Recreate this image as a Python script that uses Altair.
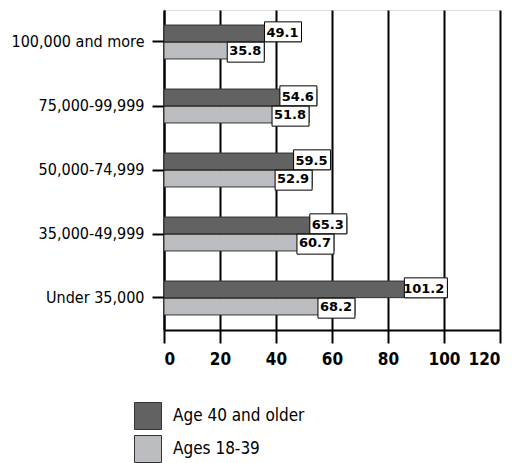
import altair as alt
import pandas as pd

categories = ["100,000 and more", "75,000-99,999", "50,000-74,999", "35,000-49,999", "Under 35,000"]
series_names = ["Age 40 and older", "Ages 18-39"]
older = [49.1, 54.6, 59.5, 65.3, 101.2]
younger = [35.8, 51.8, 52.9, 60.7, 68.2]
x_ticks = [0, 20, 40, 60, 80, 100, 120]

rows = []
for c, a, b in zip(categories, older, younger):
    rows.append({"cat": c, "series": series_names[0], "value": a, "label": f"{a:.1f}"})
    rows.append({"cat": c, "series": series_names[1], "value": b, "label": f"{b:.1f}"})
df = pd.DataFrame(rows)

COND = "DejaVu Sans Condensed"

# label-box outlines (right edge at the value), keyed by series and label length
box_keys = ["d4", "d5", "l4", "l5"]
box_paths = [
    "M-1.85,-0.575H0V0.425H-1.85Z",
    "M-2.15,-0.575H0V0.425H-2.15Z",
    "M-1.85,-0.425H0V0.575H-1.85Z",
    "M-2.15,-0.425H0V0.575H-2.15Z",
]

y_enc = alt.Y("cat:N", sort=categories, title=None,
              scale=alt.Scale(paddingInner=0.47, paddingOuter=0.235),
              axis=alt.Axis(labelFont=COND, labelFontSize=16, labelColor="black",
                            tickSize=12, tickWidth=2, tickColor="black", labelPadding=8,
                            domainColor="black", domainWidth=2))
yoff = alt.YOffset("series:N", sort=series_names, scale=alt.Scale(paddingInner=0.04))
x_enc = alt.X("value:Q", title=None,
              scale=alt.Scale(domain=[0, 120], nice=False),
              axis=alt.Axis(values=x_ticks, labelFont=COND, labelFontWeight="bold",
                            labelFontSize=17, labelColor="black", tickSize=13, tickWidth=2,
                            tickColor="black", labelPadding=8, domainColor="black", domainWidth=2,
                            grid=True, gridColor="black", gridWidth=2, gridOpacity=1))

base = alt.Chart(df)

bars = base.mark_bar(stroke="#333333", strokeWidth=1).encode(
    y=y_enc, yOffset=yoff, x=x_enc,
    color=alt.Color("series:N", sort=series_names,
                    scale=alt.Scale(domain=series_names, range=["#626262", "#bcbdc1"]),
                    legend=alt.Legend(title=None, orient="none", legendX=-30, legendY=392,
                                      symbolType="square", symbolSize=729, symbolStrokeColor="#333333",
                                      symbolStrokeWidth=1, labelFont=COND,
                                      labelFontSize=17, labelColor="black", labelOffset=11,
                                      rowPadding=1, symbolOpacity=1)),
)

boxes = base.transform_calculate(
    boxkey="(datum.series == 'Age 40 and older' ? 'd' : 'l') + length(datum.label)"
).mark_point(filled=True, fill="white", stroke="black", strokeWidth=1, opacity=1, size=1600).encode(
    y=alt.Y("cat:N", sort=categories), yOffset=yoff, x="value:Q",
    shape=alt.Shape("boxkey:N", scale=alt.Scale(domain=box_keys, range=box_paths), legend=None),
)

labels = base.mark_text(align="right", baseline="middle", dx=-3, font="DejaVu Sans",
                        fontWeight="bold", fontSize=13, color="black").encode(
    y=alt.Y("cat:N", sort=categories), yOffset=yoff, x="value:Q", text="label:N")

chart = alt.layer(bars, boxes, labels).properties(
    width=336, height=320,
    autosize=alt.AutoSizeParams(type="none"),
    padding={"left": 156, "top": 2, "right": 20, "bottom": 133},
).configure_view(stroke="black", strokeWidth=2).configure(background="white")

chart.save("out.html", embed_options={"renderer": "svg", "actions": False})
